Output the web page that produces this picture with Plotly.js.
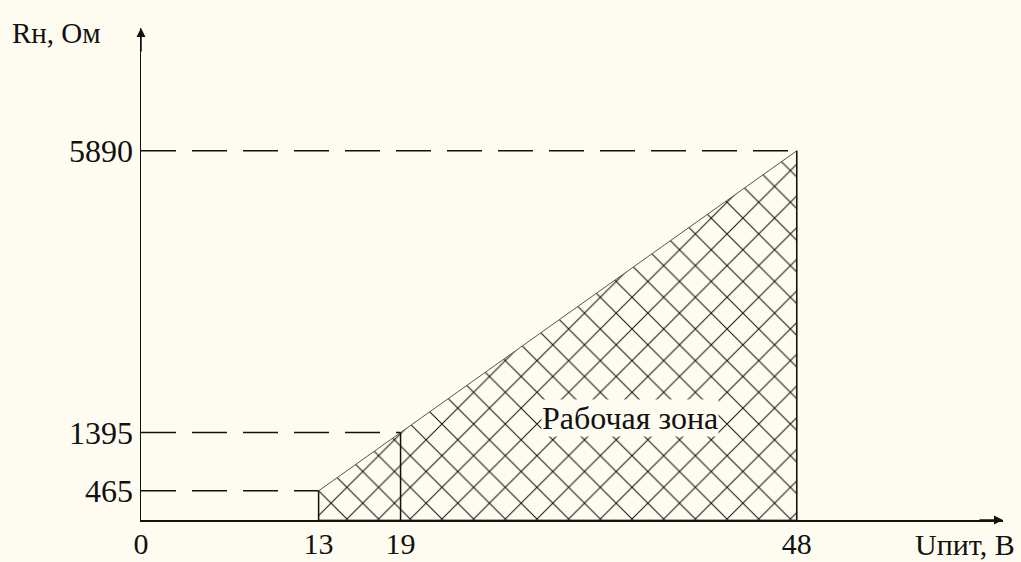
<!DOCTYPE html>
<html>
<head>
<meta charset="utf-8">
<script src="https://cdn.plot.ly/plotly-3.0.1.min.js"></script>
<style>html,body{margin:0;padding:0;background:#fefcf0;}#chart{width:1021px;height:562px;}</style>
</head>
<body>
<div id="chart"></div>
<script>
// Data
const voltage = [13, 19, 48];          // Uпит, В
const resistance = [465, 1395, 5890];  // Rн, Ом
const xTickValues = [0, 13, 19, 48];
const xTickLabels = ["0", "13", "19", "48"];
const yTickValues = [465, 1395, 5890];
const yTickLabels = ["465", "1395", "5890"];
const xTitle = "Uпит, В";
const yTitle = "Rн, Ом";
const zoneLabel = "Рабочая зона";

const XMAX = 63.1, YMAX = 7850;
const bg = "#fefcf0";
const ink = "#111111";
const serif = "Liberation Serif, Times New Roman, serif";

const traces = [];
// working zone polygon (hatched)
traces.push({
  x: [voltage[0], ...voltage, voltage[voltage.length-1], voltage[0]],
  y: [0, ...resistance, 0, 0],
  mode: "lines", fill: "toself",
  line: {color: "#555", width: 1},
  fillcolor: bg,
  fillpattern: {shape: "x", size: 22.4, solidity: 0.09, fgcolor: "#111", bgcolor: bg, fillmode: "replace"},
  hoverinfo: "skip", showlegend: false
});
// dashed horizontal guides and solid vertical lines
voltage.forEach((u, i) => {
  traces.push({x: [0, u], y: [resistance[i], resistance[i]], mode: "lines",
    line: {color: ink, width: 1.5, dash: "35px,16px"}, hoverinfo: "skip", showlegend: false});
  traces.push({x: [u, u], y: [0, resistance[i]], mode: "lines",
    line: {color: ink, width: 1.5}, hoverinfo: "skip", showlegend: false});
});

const layout = {
  width: 1021, height: 562,
  margin: {l: 141, r: 18, t: 28, b: 42},
  paper_bgcolor: bg, plot_bgcolor: bg,
  showlegend: false,
  font: {family: serif, color: ink, size: 31},
  xaxis: {range: [0, XMAX], showgrid: false, zeroline: false, showline: true, linecolor: ink, linewidth: 1.5,
    tickvals: xTickValues, ticktext: xTickLabels, ticks: "", ticklabelstandoff: -4,
    tickfont: {family: serif, size: 30, color: ink}, fixedrange: true},
  yaxis: {range: [0, YMAX], showgrid: false, zeroline: false, showline: true, linecolor: ink, linewidth: 1.5,
    tickvals: yTickValues, ticktext: yTickLabels, ticks: "", tickfont: {family: serif, size: 32, color: ink}, fixedrange: true},
  annotations: [
    {xref: "x", yref: "y", x: XMAX, y: 0, ax: -25, ay: 0, text: "", showarrow: true, arrowhead: 2, arrowsize: 1.2, arrowwidth: 1.5, arrowcolor: ink},
    {xref: "x", yref: "y", x: 0, y: YMAX, ax: 0, ay: 25, text: "", showarrow: true, arrowhead: 2, arrowsize: 1.2, arrowwidth: 1.5, arrowcolor: ink},
    {xref: "paper", yref: "paper", x: -0.152, y: 0.99, xanchor: "left", yanchor: "middle", text: yTitle, showarrow: false, font: {family: serif, size: 29, color: ink}},
    {xref: "paper", yref: "paper", x: 1.016, y: -0.05, xanchor: "right", yanchor: "middle", text: xTitle, showarrow: false, font: {family: serif, size: 30, color: ink}},
    {xref: "x", yref: "y", x: 35.8, y: 1630, text: zoneLabel, showarrow: false, bgcolor: bg, borderpad: 0, font: {family: serif, size: 32, color: ink}}
  ]
};

Plotly.newPlot("chart", traces, layout, {displayModeBar: false, staticPlot: true});
</script>
</body>
</html>
